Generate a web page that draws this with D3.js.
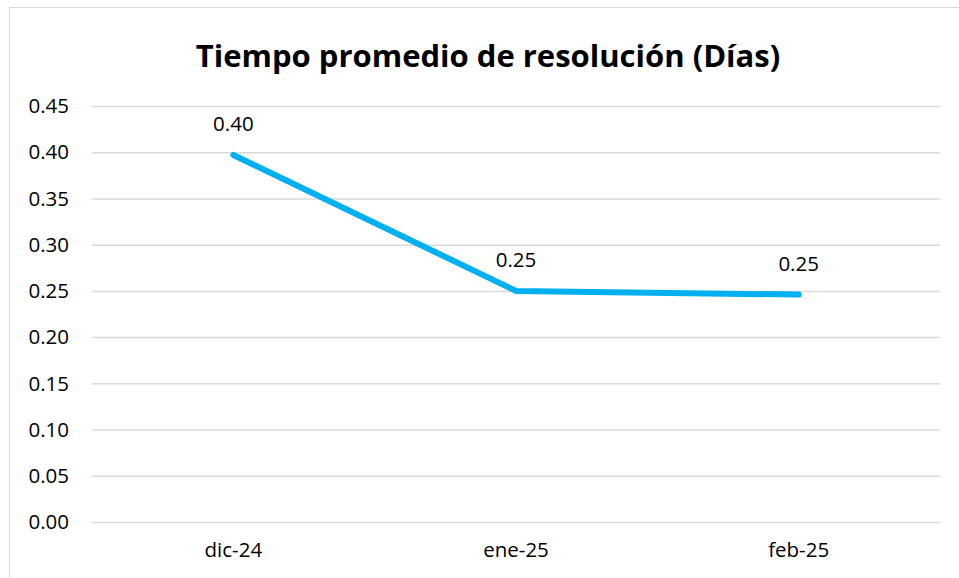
<!DOCTYPE html>
<html>
<head>
<meta charset="utf-8">
<script src="https://cdn.jsdelivr.net/npm/d3@7"></script>
<style>
  body { margin: 0; background: #fff; }
  text { font-family: "Open Sans", "Noto Sans", sans-serif; fill: #000; }
</style>
</head>
<body>
<svg id="chart" width="959" height="578"></svg>
<script>
const title = "Tiempo promedio de resolución (Días)"
const categories = ["dic-24", "ene-25", "feb-25"]
const values = [0.397, 0.25, 0.246]
const valueLabels = ["0.40", "0.25", "0.25"]
const yTicks = [0, 0.05, 0.10, 0.15, 0.20, 0.25, 0.30, 0.35, 0.40, 0.45]

const svg = d3.select("#chart")
const margin = {top: 106, right: 19, bottom: 56, left: 92}
const width = 959 - margin.left - margin.right
const height = 522 - margin.top

// chart frame
svg.append("rect")
    .attr("x", 9.5).attr("y", 7.5)
    .attr("width", 959).attr("height", 600)
    .attr("fill", "#fff")
    .attr("stroke", "#d9d9d9")
    .attr("stroke-width", 1)

svg.append("text")
    .attr("x", 488)
    .attr("y", 67)
    .attr("text-anchor", "middle")
    .style("font-size", "31px")
    .style("font-weight", "bold")
    .text(title)

const g = svg.append("g")
    .attr("transform", "translate(" + margin.left + "," + margin.top + ")")

const xScale = d3.scaleBand().domain(categories).range([0, width])
const yScale = d3.scaleLinear().domain([0, 0.45]).range([height, 0])

// y axis with gridlines
g.append("g")
    .call(d3.axisLeft(yScale).tickValues(yTicks).tickFormat(d3.format(".2f")).tickSize(-width).tickPadding(23))
    .call(a => a.select(".domain").remove())
    .call(a => a.selectAll(".tick line").attr("stroke", "#d9d9d9").attr("stroke-width", 1.5))
    .call(a => a.selectAll(".tick text").style("font-size", "20.5px").attr("dy", "0.33em"))

// x axis labels
g.append("g")
    .attr("transform", "translate(0," + height + ")")
    .call(d3.axisBottom(xScale).tickSize(0).tickPadding(20))
    .call(a => a.select(".domain").remove())
    .call(a => a.selectAll(".tick text").style("font-size", "20.5px"))

const line = d3.line()
    .x((d, i) => xScale(categories[i]) + xScale.bandwidth() / 2)
    .y(d => yScale(d))

g.append("path")
    .datum(values)
    .attr("d", line)
    .attr("fill", "none")
    .attr("stroke", "#00b0f0")
    .attr("stroke-width", 6)
    .attr("stroke-linecap", "round")
    .attr("stroke-linejoin", "round")

g.selectAll(".vlabel")
    .data(values)
    .enter()
    .append("text")
    .attr("class", "vlabel")
    .attr("x", (d, i) => xScale(categories[i]) + xScale.bandwidth() / 2)
    .attr("y", d => yScale(d) - 24)
    .attr("text-anchor", "middle")
    .style("font-size", "20.5px")
    .text((d, i) => valueLabels[i])
</script>
</body>
</html>
